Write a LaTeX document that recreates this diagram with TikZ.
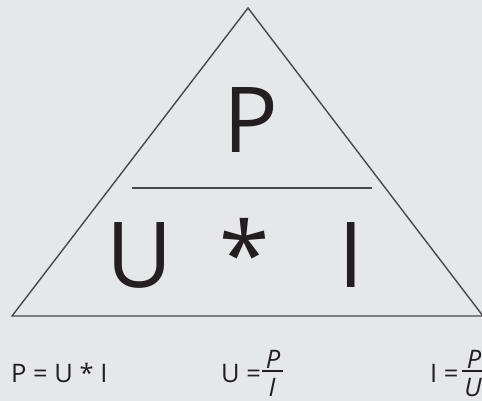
\documentclass[tikz,border=0pt]{standalone}
\usepackage{fontspec}
\setmainfont{Open Sans}
\begin{document}
\begin{tikzpicture}[x=1pt,y=-1pt,
  big/.style={inner sep=0pt, anchor=base, text=ink, font=\fontsize{91}{100}\selectfont},
  small/.style={inner sep=0pt, text=ink, font=\fontsize{25.5}{30}\selectfont},
  edge/.style={draw=edgecol, line width=1.4pt, line join=miter},
  fracbar/.style={draw=ink, line width=1.3pt}]
\definecolor{bg}{RGB}{230,231,233}
\definecolor{ink}{RGB}{35,31,32}
\definecolor{edgecol}{RGB}{72,72,74}
\useasboundingbox (0,0) rectangle (482,401);
\clip (0,0) rectangle (482,401);
\fill[bg] (0,0) rectangle (482,401);
% triangle
\coordinate (apex) at (248,8);
\coordinate (bl) at (12,316);
\coordinate (br) at (483,316);
\draw[edge] (bl) -- (apex) -- (br) -- cycle;
% divider
\coordinate (dl) at (132,188);
\coordinate (dr) at (372,188);
\draw[draw=edgecol, line width=1.8pt] (dl) -- (dr);
% big letters
\node[big] (P) at (251,153) {P};
\node[big] (U) at (140,287) {U};
\node[big] (star) at (245,287) {*};
\node[big] (I) at (351,287) {I};
% formulas
\node[small, anchor=base west] (f1) at (11,382) {P = U * I};
\node[small, anchor=base west] (f2) at (221,382) {U =};
\coordinate (b2l) at (262,371);
\coordinate (b2r) at (283,371);
\draw[fracbar] (b2l) -- (b2r);
\node[small, anchor=base, font=\fontsize{25.5}{30}\selectfont\itshape] (n2) at (273,368) {P};
\node[small, anchor=base, font=\fontsize{25.5}{30}\selectfont\itshape] (d2) at (272,396) {I};
\node[small, anchor=base west] (f3) at (430,382) {I =};
\coordinate (b3l) at (462,371);
\coordinate (b3r) at (486,371);
\draw[fracbar] (b3l) -- (b3r);
\node[small, anchor=base, font=\fontsize{25.5}{30}\selectfont\itshape] (n3) at (474,368) {P};
\node[small, anchor=base, font=\fontsize{25.5}{30}\selectfont\itshape] (d3) at (473,396) {U};
\end{tikzpicture}
\end{document}
